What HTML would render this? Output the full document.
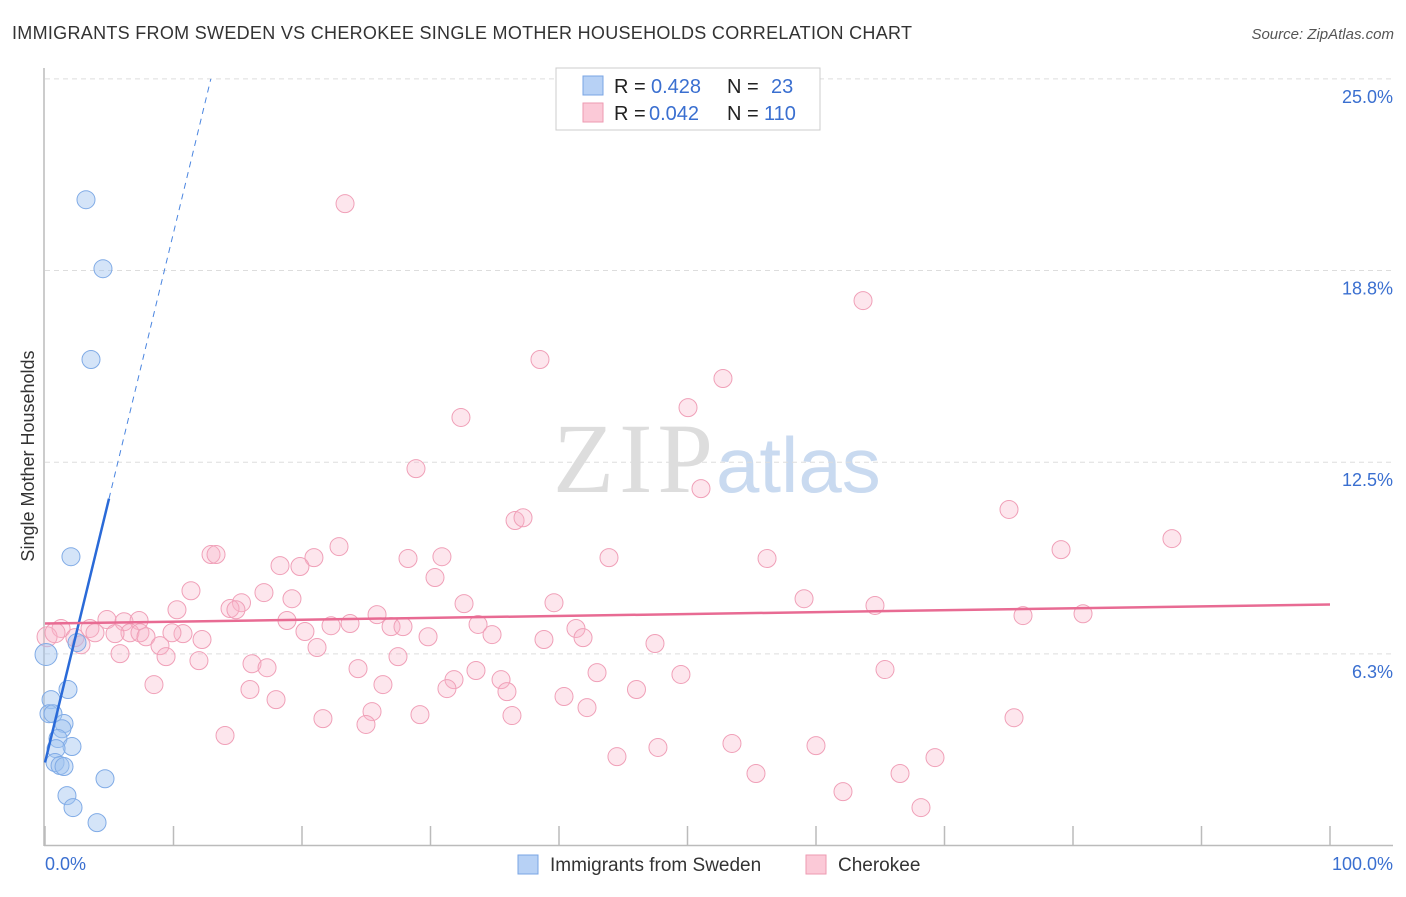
<!DOCTYPE html>
<html><head><meta charset="utf-8"><style>
html,body{margin:0;padding:0;background:#fff;}
body{width:1406px;height:892px;overflow:hidden;font-family:"Liberation Sans",sans-serif;}
</style></head><body>
<svg width="1406" height="892" xmlns="http://www.w3.org/2000/svg">
<text x="12" y="39" font-size="18" fill="#333" textLength="900">IMMIGRANTS FROM SWEDEN VS CHEROKEE SINGLE MOTHER HOUSEHOLDS CORRELATION CHART</text>
<text x="1394" y="39" font-size="15" fill="#555" font-style="italic" text-anchor="end">Source: ZipAtlas.com</text>
<g>
<text x="553" y="492" font-size="100" font-family="Liberation Serif,serif" fill="#ddd" textLength="160">ZIP</text>
<text x="716" y="492" font-size="78" fill="#c9daf0">atlas</text>
</g>
<g id="grid"></g>
<g id="axes"></g>
<g id="marks"></g>
<text transform="translate(34,456) rotate(-90)" font-size="18" fill="#333" text-anchor="middle">Single Mother Households</text>
<text x="45" y="870" font-size="18" fill="#3a6fd0">0.0%</text>
<text x="1393" y="870" font-size="18" fill="#3a6fd0" text-anchor="end">100.0%</text>
<g>
<rect x="556" y="68" width="264" height="62" fill="#fff" stroke="#ccc"/>
<rect x="583" y="76" width="20" height="19" fill="#b7d1f5" stroke="#7aa5e4"/>
<rect x="583" y="103" width="20" height="19" fill="#fbc9d7" stroke="#ee9ab2"/>
<text y="93" font-size="20"><tspan x="614" fill="#222">R = </tspan><tspan x="651" fill="#3a6fd0">0.428</tspan><tspan x="727" fill="#222">N = </tspan><tspan x="771" fill="#3a6fd0">23</tspan></text>
<text y="120" font-size="20"><tspan x="614" fill="#222">R = </tspan><tspan x="649" fill="#3a6fd0">0.042</tspan><tspan x="727" fill="#222">N = </tspan><tspan x="764" fill="#3a6fd0">110</tspan></text>
</g>
<g>
<rect x="518" y="855" width="20" height="19" fill="#b7d1f5" stroke="#7aa5e4"/>
<text x="550" y="871" font-size="19" fill="#333">Immigrants from Sweden</text>
<rect x="806" y="855" width="20" height="19" fill="#fbc9d7" stroke="#ee9ab2"/>
<text x="838" y="871" font-size="19" fill="#333">Cherokee</text>
</g>
</svg>
<script>
const yTicks=[6.25,12.5,18.75,25];
const yTickLabels=["6.3%","12.5%","18.8%","25.0%"];
const xTicks=[0,10,20,30,40,50,60,70,80,90,100];
const swedenX=[3.19,4.51,3.58,2.02,1.79,0.47,0.31,0.62,1.48,1.32,1.01,2.10,0.86,0.78,1.17,1.48,4.67,1.71,2.18,4.05,0.08,2.49];
const swedenY=[21.06,18.81,15.85,9.42,5.09,4.76,4.30,4.30,3.98,3.81,3.49,3.23,3.16,2.71,2.61,2.58,2.18,1.63,1.24,0.75,6.23,6.62];
const cherX=[23.35,63.66,38.52,52.76,32.37,50.04,28.87,51.05,36.58,37.20,75.02,87.70,79.07,22.88,12.92,13.31,20.93,28.25,30.89,43.89,56.19,18.29,19.84,30.35,11.36,17.04,19.22,59.07,32.61,39.61,64.59,15.29,14.40,14.86,10.27,25.84,76.11,80.78,4.82,6.15,7.32,18.83,23.74,22.26,26.93,27.86,33.70,41.32,3.50,1.25,6.61,5.45,3.89,7.39,10.74,9.88,20.23,29.81,34.79,41.87,38.83,12.22,2.33,7.86,8.95,2.80,21.17,47.47,5.84,9.42,11.98,27.47,16.11,17.28,24.36,33.54,42.96,49.49,65.37,31.83,35.49,8.48,26.30,15.95,31.28,35.95,46.03,40.39,17.98,42.18,25.45,29.18,21.63,36.34,75.41,24.98,14.01,53.46,60.00,47.70,44.51,69.26,55.33,66.54,62.10,68.17,0.16,0.78];
const cherY=[20.93,17.77,15.85,15.23,13.96,14.28,12.29,11.64,10.60,10.69,10.96,10.01,9.65,9.75,9.49,9.49,9.39,9.36,9.42,9.39,9.36,9.13,9.10,8.74,8.31,8.25,8.05,8.05,7.89,7.92,7.83,7.92,7.73,7.69,7.69,7.53,7.50,7.56,7.37,7.30,7.34,7.34,7.24,7.17,7.14,7.14,7.21,7.08,7.08,7.08,6.94,6.91,6.94,6.94,6.91,6.94,6.98,6.81,6.88,6.78,6.72,6.72,6.78,6.81,6.52,6.55,6.46,6.59,6.26,6.16,6.03,6.16,5.93,5.80,5.77,5.71,5.64,5.58,5.74,5.41,5.41,5.25,5.25,5.09,5.12,5.02,5.09,4.86,4.76,4.50,4.37,4.27,4.14,4.24,4.17,3.95,3.59,3.33,3.26,3.20,2.90,2.87,2.35,2.35,1.76,1.24,6.81,6.94];
const swedenTrend=[2.71,1.727];
const cherTrend=[7.24,0.0062];
const NS="http://www.w3.org/2000/svg";
const sx=v=>45+v*12.85, sy=v=>845.6-v*30.67;
function mk(tag,attrs,parent){const e=document.createElementNS(NS,tag);for(const k in attrs)e.setAttribute(k,attrs[k]);parent.appendChild(e);return e;}
const grid=document.getElementById('grid'),axes=document.getElementById('axes'),marks=document.getElementById('marks');
yTicks.forEach((t,i)=>{
 const l=mk('line',{x1:45,x2:1393,y1:sy(t),y2:sy(t),stroke:'#ddd','stroke-dasharray':'5,4'},grid);
 
 
 const tx=mk('text',{x:1393,y:sy(t)+24,'font-size':18,fill:'#3a6fd0','text-anchor':'end'},grid);
 tx.textContent=yTickLabels[i];
 
 
});
let a=mk('line',{x1:44,x2:44,y1:68,y2:846,stroke:'#bbb','stroke-width':1.5},axes);


a=mk('line',{x1:44,x2:1393,y1:845.5,y2:845.5,stroke:'#bbb','stroke-width':1.5},axes);


xTicks.forEach(t=>{
 const l=mk('line',{x1:sx(t),x2:sx(t),y1:826,y2:845,stroke:'#bbb','stroke-width':1.5},axes);
 
 
});
cherX.forEach((x,i)=>{
 const c=mk('circle',{cx:sx(x),cy:sy(cherY[i]),r:(i>=cherX.length-2?10:9),fill:'rgba(248,180,200,0.33)',stroke:'#f0a0b8','stroke-width':1},marks);
 
 
});
swedenX.forEach((x,i)=>{
 const c=mk('circle',{cx:sx(x),cy:sy(swedenY[i]),r:(i==20?11:9),fill:'rgba(160,196,240,0.45)',stroke:'#80abe6','stroke-width':1},marks);
 
 
});
const xs=4.98, xe=(25-swedenTrend[0])/swedenTrend[1];
let t=mk('line',{x1:sx(0),y1:sy(swedenTrend[0]),x2:sx(xs),y2:sy(swedenTrend[0]+swedenTrend[1]*xs),stroke:'#2a6ad8','stroke-width':2.5},marks);


t=mk('line',{x1:sx(xs),y1:sy(swedenTrend[0]+swedenTrend[1]*xs),x2:sx(xe),y2:sy(25),stroke:'#4a85e0','stroke-width':1,'stroke-dasharray':'6,5'},marks);


t=mk('line',{x1:sx(0),y1:sy(cherTrend[0]),x2:sx(100),y2:sy(cherTrend[0]+cherTrend[1]*100),stroke:'#e86b93','stroke-width':2.5},marks);


</script>
</body></html>
